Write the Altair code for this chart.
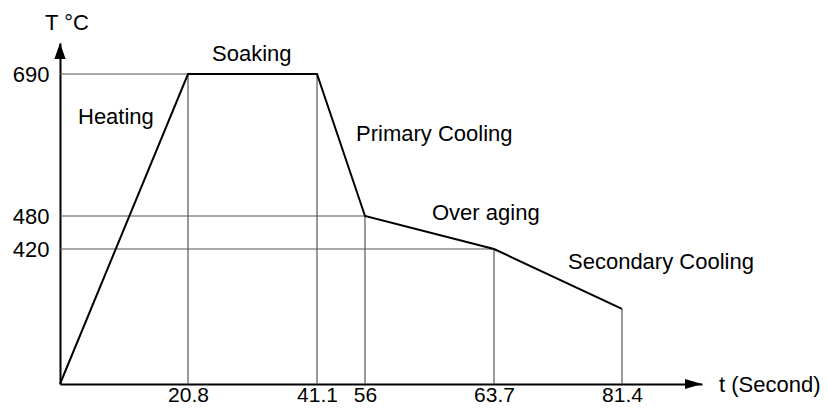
import altair as alt
import pandas as pd

# ---- data ----
times = [0, 20.8, 41.1, 56, 63.7, 81.4]          # t (Second)
temps = [25, 690, 690, 480, 420, 245]            # T (°C)
x_ticks = [20.8, 41.1, 56, 63.7, 81.4]
y_ticks = [690, 480, 420]
stages = ["Heating", "Soaking", "Primary Cooling", "Over aging", "Secondary Cooling"]
t_axis_end = 92.5
T_axis_end = 740
T_base = 25

FONT = "Liberation Sans"
FS = 22

profile = pd.DataFrame({"t": times, "T": temps})

# horizontal guides: from the T axis to the first point at each labelled temperature
h_rows = []
for yv in y_ticks:
    i = temps.index(yv)
    h_rows.append({"t0": 0, "t1": times[i], "T": yv})
hguides = pd.DataFrame(h_rows)

# vertical guides: from the t axis up to each labelled point
vguides = pd.DataFrame({"t": times[1:], "T0": [T_base] * (len(times) - 1), "T1": temps[1:]})

arrows_x = pd.DataFrame({"t": [t_axis_end], "T": [T_base]})
arrows_y = pd.DataFrame({"t": [0], "T": [T_axis_end]})

# schematic (piecewise) scales, like the drawing
x_scale = alt.Scale(domain=[0] + x_ticks + [t_axis_end],
                    range=[0, 128, 257, 305, 434, 562, 642], nice=False, zero=False)
y_scale = alt.Scale(domain=[T_base, 420, 480, 690, T_axis_end],
                    range=[345, 210, 177, 35, 4], nice=False, zero=False)

x_axis = alt.Axis(values=x_ticks, ticks=False, grid=False, title=None,
                  labelExpr="format(datum.value, '.3~g')",
                  domainColor="black", domainWidth=2, labelPadding=0,
                  labelFont=FONT, labelFontSize=21, labelColor="black",
                  labelOverlap=False, labelFlush=False)
y_axis = alt.Axis(values=y_ticks, ticks=False, grid=False, title=None,
                  labelExpr="format(datum.value, '.3~g')",
                  domainColor="black", domainWidth=2, labelPadding=11,
                  labelFont=FONT, labelFontSize=FS, labelColor="black",
                  labelOverlap=False, labelFlush=False)

GUIDE = "#555555"

h_layer = alt.Chart(hguides).mark_rule(color=GUIDE, strokeWidth=1.2).encode(
    x=alt.X("t0:Q", scale=x_scale, axis=x_axis),
    x2="t1:Q",
    y=alt.Y("T:Q", scale=y_scale, axis=y_axis),
)
v_layer = alt.Chart(vguides).mark_rule(color=GUIDE, strokeWidth=1.2).encode(
    x=alt.X("t:Q", scale=x_scale, axis=x_axis),
    y=alt.Y("T0:Q", scale=y_scale, axis=y_axis),
    y2="T1:Q",
)
line_layer = alt.Chart(profile).mark_line(color="black", strokeWidth=2).encode(
    x=alt.X("t:Q", scale=x_scale, axis=x_axis),
    y=alt.Y("T:Q", scale=y_scale, axis=y_axis),
)
arrow_r = alt.Chart(arrows_x).mark_point(
    shape="M0,0L-2,-0.6L-2,0.6Z", size=289, filled=True, color="black", opacity=1, strokeWidth=0
).encode(
    x=alt.X("t:Q", scale=x_scale, axis=x_axis),
    y=alt.Y("T:Q", scale=y_scale, axis=y_axis),
)
arrow_u = alt.Chart(arrows_y).mark_point(
    shape="M0,0L-0.7,2L0.7,2Z", size=256, filled=True, color="black", opacity=1, strokeWidth=0
).encode(
    x=alt.X("t:Q", scale=x_scale, axis=x_axis),
    y=alt.Y("T:Q", scale=y_scale, axis=y_axis),
)


def label(text, px, py, size=FS):
    return alt.Chart(pd.DataFrame({"s": [text]})).mark_text(
        align="left", baseline="alphabetic", font=FONT, fontSize=size, color="black"
    ).encode(x=alt.value(px), y=alt.value(py), text="s:N")


texts = [
    label(stages[0], 18, 85),
    label(stages[1], 152, 22),
    label(stages[2], 296, 102),
    label(stages[3], 372, 181),
    label(stages[4], 508, 230),
    label("t (Second)", 659, 353),
    label("T °C", -15, -9),
]

chart = alt.layer(h_layer, v_layer, line_layer, arrow_r, arrow_u, *texts).properties(
    width=642, height=345,
    padding={"left": 52, "top": 31, "right": 118, "bottom": 22},
    autosize=alt.AutoSizeParams(type="none"),
).configure_view(stroke=None)

chart.save("out.html", embed_options={"renderer": "svg", "actions": False})
